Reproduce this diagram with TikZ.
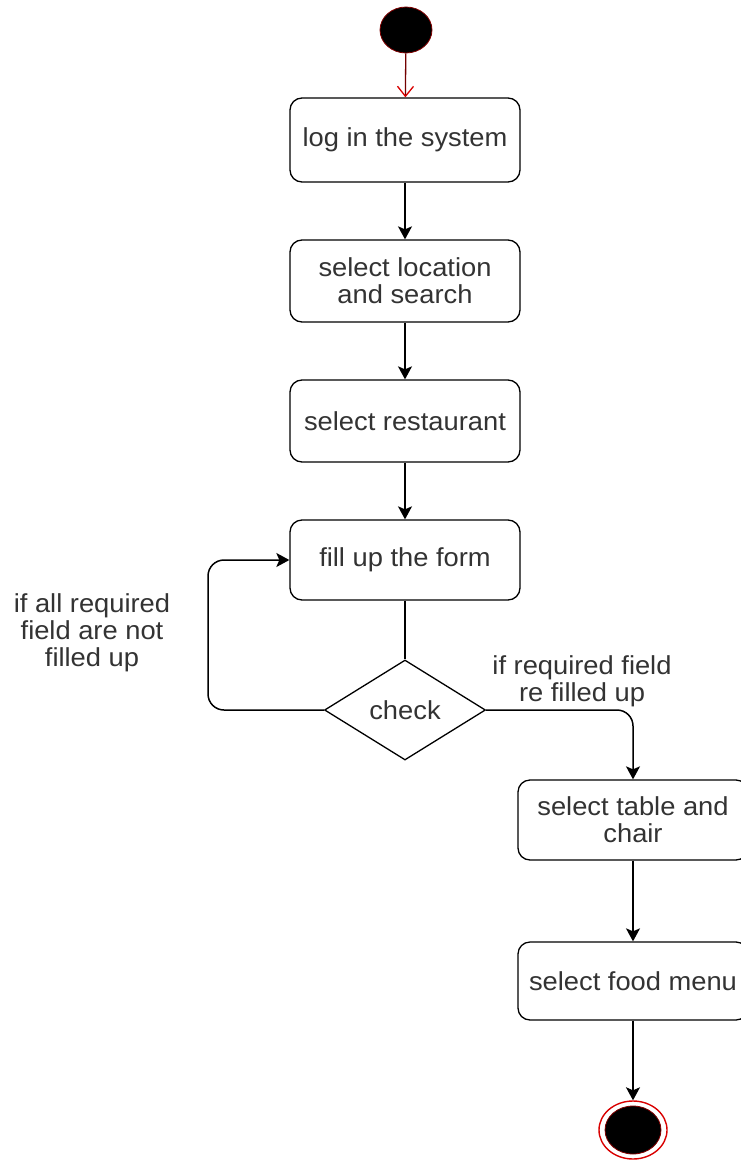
\documentclass[tikz,border=0pt]{standalone}
\usepackage{fontspec}
\setmainfont[FakeStretch=1.05]{Liberation Sans}
\usetikzlibrary{shapes.geometric,arrows.meta}
\definecolor{txt}{HTML}{333333}
\begin{document}
\begin{tikzpicture}[x=1pt,y=-1pt,
  every node/.style={font=\fontsize{26}{27}\selectfont, text=txt},
  actbox/.style={draw=black, line width=1.3pt, rounded corners=12pt, minimum width=230pt, align=center, inner sep=0pt},
  decis/.style={draw=black, line width=1.3pt, diamond, minimum width=161pt, minimum height=100pt, inner sep=0pt},
  flow/.style={draw=black, line width=1.5pt, -{Stealth[length=13pt,width=14pt,inset=3pt]}},
  lbl/.style={align=center, inner sep=0pt}
]
\useasboundingbox (0,0) rectangle (741,1161);
\fill[white] (0,0) rectangle (741,1161);

\node[ellipse, fill=black, draw=red!50!black, line width=0.8pt, minimum width=52pt, minimum height=46pt, inner sep=0pt] (start) at (406,30) {};

\node[actbox, minimum height=84pt] (b1) at (405,140) {log in the system};
\node[actbox, minimum height=82pt] (b2) at (405,281) {select location\\and search};
\node[actbox, minimum height=82pt] (b3) at (405,421) {select restaurant};
\node[actbox, minimum height=80pt] (b4) at (405,560) {fill up the form};
\node[decis] (d) at (405,710) {check};
\node[actbox, minimum height=80pt] (b5) at (633,820) {select table and\\chair};
\node[actbox, minimum height=78pt] (b6) at (633,981) {select food menu};

\node[ellipse, draw=red!85!black, line width=1.4pt, minimum width=68pt, minimum height=58pt, inner sep=0pt] (end) at (633,1130) {};
\node[ellipse, fill=black, draw=red!50!black, line width=0.8pt, minimum width=56pt, minimum height=48pt, inner sep=0pt] (endin) at (633,1130) {};

\node[lbl] (l1) at (92,633) {if all required\\field are not\\filled up};
\node[lbl] (l2) at (582,681) {if required field\\re filled up};

\draw[line width=1.3pt, draw=red!45!black, -{Straight Barb[length=10pt,width=16pt,color=red!85!black]}] (start) -- (b1);
\draw[flow] (b1) -- (b2);
\draw[flow] (b2) -- (b3);
\draw[flow] (b3) -- (b4);
\draw[line width=1.5pt] (b4.south) -- (d.north);
\coordinate (lc) at (208,560);
\draw[flow, rounded corners=16pt] (d.west) -| (lc) -- (b4.west);
\draw[flow, rounded corners=16pt] (d.east) -| (b5.north);
\draw[flow] (b5) -- (b6);
\draw[flow] (b6) -- (end);
\end{tikzpicture}
\end{document}
